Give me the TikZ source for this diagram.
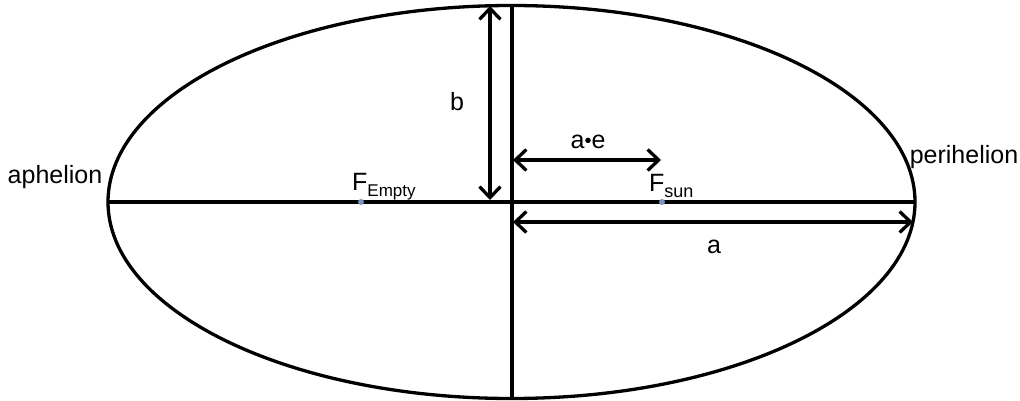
\documentclass[tikz,border=0pt]{standalone}
\usepackage{fontspec}
\setmainfont{Liberation Sans}
\usetikzlibrary{arrows.meta}
\definecolor{focusblue}{RGB}{120,150,190}
\begin{document}
\begin{tikzpicture}[x=1pt,y=-1pt,
  thick line/.style={line width=3.3pt},
  dim/.style={line width=3.3pt,{Straight Barb[length=11pt,width=21pt,line width=3.3pt]}-{Straight Barb[length=11pt,width=21pt,line width=3.3pt]}},
  lbl/.style={font=\fontsize{25}{29}\selectfont, inner sep=0pt},
  focus/.style={circle,fill=focusblue,inner sep=0pt,minimum size=6pt}]
\useasboundingbox (0,0) rectangle (1020,401);
\coordinate (C) at (511.5,202);
\draw[thick line] (C) ellipse [x radius=403.5, y radius=196.5];
\coordinate (L) at (108,202);
\coordinate (R) at (915,202);
\coordinate (T) at (512,5);
\coordinate (B) at (512,398);
\draw[thick line] (L) -- (R);
\draw[thick line] (T) -- (B);
% b arrow
\coordinate (bt) at (490,6);
\coordinate (bb) at (490,200);
\draw[dim] (bt) -- (bb);
% a.e arrow
\coordinate (ae1) at (513,160);
\coordinate (ae2) at (661,160);
\draw[dim] (ae1) -- (ae2);
% a arrow
\coordinate (a1) at (513,222);
\coordinate (a2) at (913,222);
\draw[dim] (a1) -- (a2);
% foci
\node[focus] (Fe) at (361,202) {};
\node[focus] (Fs) at (662,202) {};
% labels
\node[lbl] (lb) at (457,102) {b};
\node[lbl] (lae) at (588,142) {a{\fontsize{20}{20}\selectfont\raisebox{1pt}{•}}e};
\node[lbl,anchor=base west] (lFe) at (352,190) {F\raisebox{-6pt}{\fontsize{17}{17}\selectfont Empty}};
\node[lbl,anchor=base west] (lFs) at (649,191) {F\raisebox{-6pt}{\fontsize{18}{18}\selectfont sun}};
\node[lbl] (la) at (714,247) {a};
\node[lbl] (lap) at (55,177) {aphelion};
\node[lbl] (lpe) at (964,157) {perihelion};
\end{tikzpicture}
\end{document}
